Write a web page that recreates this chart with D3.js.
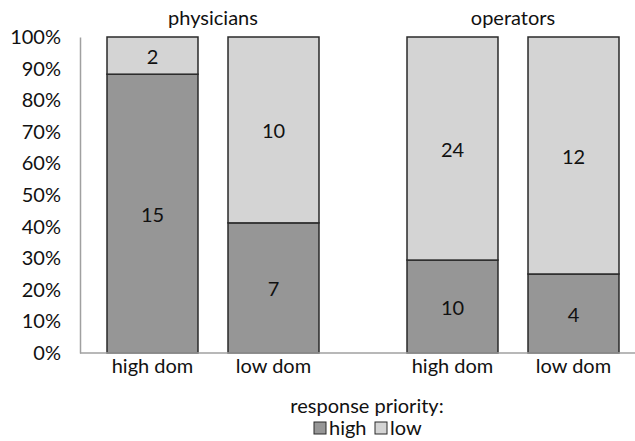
<!DOCTYPE html>
<html><head><meta charset="utf-8">
<script src="https://cdn.jsdelivr.net/npm/d3@7"></script>
<style>body{margin:0;background:#fff}svg{display:block}text{font-family:Lato,"Open Sans",sans-serif;fill:#111}</style>
</head><body>
<svg id="c" width="635" height="441"></svg>
<script>
const groups = ["physicians", "operators"];
const categories = ["high dom", "low dom"];
const seriesNames = ["high", "low"];
const highValues = [[15, 7], [10, 4]];
const lowValues = [[2, 10], [24, 12]];
const yTicks = [0, 0.1, 0.2, 0.3, 0.4, 0.5, 0.6, 0.7, 0.8, 0.9, 1.0];
const colors = {high: "#969696", low: "#d4d4d4"};

const FS = 20;
const svg = d3.select("#c");
const y = d3.scaleLinear().domain([0, 1]).range([353, 37]);
const gx = d3.scalePoint().domain(groups).range([213, 513]);
const ix = d3.scaleBand().domain(categories).range([-121, 121]).paddingInner(0.248).paddingOuter(0.124);

// y axis
const yAxis = d3.axisLeft(y).tickValues(yTicks).tickFormat(d3.format(".0%")).tickSize(0).tickPadding(19);
const ya = svg.append("g").attr("transform", "translate(80,0)").call(yAxis);
ya.select(".domain").attr("stroke", "#a0a0a0").attr("stroke-width", 1.5);
ya.selectAll("text").attr("font-size", FS).style("font-family", "Lato").attr("fill", "#111");

// bars
const data = [];
groups.forEach((g, gi) => categories.forEach((c, ci) => {
  const h = highValues[gi][ci], l = lowValues[gi][ci], t = h + l;
  data.push({g, c, s: "high", v: h, y0: 0, y1: h / t});
  data.push({g, c, s: "low", v: l, y0: h / t, y1: 1});
}));
const bx = d => gx(d.g) + ix(d.c);
svg.append("g").selectAll("rect").data(data).join("rect")
  .attr("x", bx).attr("width", ix.bandwidth())
  .attr("y", d => y(d.y1)).attr("height", d => y(d.y0) - y(d.y1))
  .attr("fill", d => colors[d.s]).attr("stroke", "#2a2a2a").attr("stroke-width", 1.5);
svg.append("g").selectAll("text").data(data).join("text")
  .attr("x", d => bx(d) + ix.bandwidth() / 2).attr("y", d => y((d.y0 + d.y1) / 2))
  .attr("text-anchor", "middle").attr("dominant-baseline", "central")
  .attr("font-size", FS).text(d => d.v);

// baseline
svg.append("line").attr("x1", 80).attr("x2", 635).attr("y1", y(0)).attr("y2", y(0))
  .attr("stroke", "#a0a0a0").attr("stroke-width", 1.5);

// group titles
svg.append("g").selectAll("text").data(groups).join("text")
  .attr("x", d => gx(d)).attr("y", 25).attr("text-anchor", "middle").attr("font-size", FS).text(d => d);

// category labels
const cl = [];
groups.forEach(g => categories.forEach(c => cl.push({g, c})));
svg.append("g").selectAll("text").data(cl).join("text")
  .attr("x", d => gx(d.g) + ix(d.c) + ix.bandwidth() / 2).attr("y", 373)
  .attr("text-anchor", "middle").attr("font-size", FS).text(d => d.c);

// legend
svg.append("text").attr("x", 367).attr("y", 413).attr("text-anchor", "middle").attr("font-size", FS).text("response priority:");
const leg = svg.append("g");
const legX = [314, 375];
seriesNames.forEach((s, i) => {
  leg.append("rect").attr("x", legX[i]).attr("y", 422).attr("width", 12).attr("height", 12)
    .attr("fill", colors[s]).attr("stroke", "#2a2a2a").attr("stroke-width", 1);
  leg.append("text").attr("x", legX[i] + 15).attr("y", 435).attr("font-size", FS).text(s);
});
</script>
</body></html>
